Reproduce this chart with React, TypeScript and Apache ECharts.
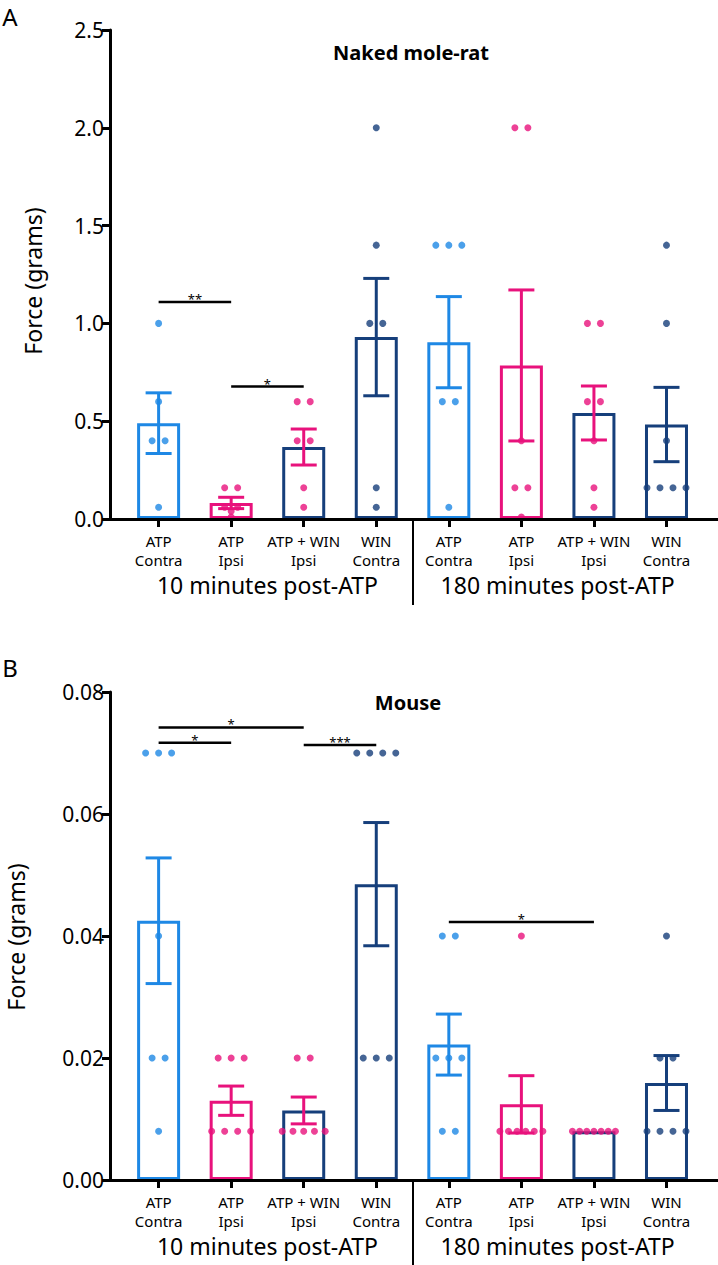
import React, { useEffect, useRef } from "react";
import * as echarts from "echarts";

// ---------- data ----------
const categories = [
  "ATP\nContra", "ATP\nIpsi", "ATP + WIN\nIpsi", "WIN\nContra",
  "ATP\nContra", "ATP\nIpsi", "ATP + WIN\nIpsi", "WIN\nContra",
];
const timeGroups = ["10 minutes post-ATP", "180 minutes post-ATP"];

// Panel A: naked mole-rat (grams)
const nmrMean = [0.49, 0.082, 0.368, 0.93, 0.904, 0.785, 0.542, 0.483];
const nmrSem = [0.155, 0.029, 0.092, 0.3, 0.233, 0.386, 0.138, 0.19];
const nmrPoints = [
  [1.0, 0.6, 0.4, 0.4, 0.06],
  [0.16, 0.16, 0.06, 0.06, 0.04, 0.01],
  [0.6, 0.6, 0.4, 0.4, 0.16, 0.06],
  [2.0, 1.4, 1.0, 1.0, 0.16, 0.06],
  [1.4, 1.4, 1.4, 0.6, 0.6, 0.06],
  [2.0, 2.0, 0.4, 0.16, 0.16, 0.01],
  [1.0, 1.0, 0.6, 0.6, 0.4, 0.16, 0.06],
  [1.4, 1.0, 0.4, 0.16, 0.16, 0.16, 0.16],
];
const nmrSig = [
  [0, 1.11, 1],
  [1, 0.677, 2],
];
const nmrSigLabels = ["**", "*"];

// Panel B: mouse (grams)
const mouseMean = [0.0425, 0.013, 0.0114, 0.0485, 0.0222, 0.0124, 0.008, 0.0159];
const mouseSem = [0.0103, 0.0024, 0.0022, 0.0101, 0.005, 0.0047, 0, 0.0045];
const mousePoints = [
  [0.07, 0.07, 0.07, 0.04, 0.02, 0.02, 0.008],
  [0.02, 0.02, 0.02, 0.008, 0.008, 0.008, 0.008],
  [0.02, 0.02, 0.008, 0.008, 0.008, 0.008, 0.008],
  [0.07, 0.07, 0.07, 0.07, 0.02, 0.02, 0.02],
  [0.04, 0.04, 0.02, 0.02, 0.02, 0.008, 0.008],
  [0.04, 0.008, 0.008, 0.008, 0.008, 0.008, 0.008],
  [0.008, 0.008, 0.008, 0.008, 0.008, 0.008, 0.008],
  [0.04, 0.02, 0.02, 0.008, 0.008, 0.008, 0.008],
];
const mouseSig = [
  [0, 0.0717, 1],
  [0, 0.0742, 2],
  [2, 0.0713, 3],
  [4, 0.0423, 6],
];
const mouseSigLabels = ["*", "*", "***", "*"];

// ---------- styles ----------
const LIGHT = "#1E88E5";
const PINK = "#E8127C";
const NAVY = "#163F7B";
const barColor = [LIGHT, PINK, NAVY, NAVY, LIGHT, PINK, NAVY, NAVY];
const markColor = [LIGHT, PINK, PINK, NAVY, LIGHT, PINK, PINK, NAVY];
const FONT = "Noto Sans";

const X_MIN = -0.67;
const X_MAX = 7.71;
const GRID_W = 608;
const PX_PER_UNIT = GRID_W / (X_MAX - X_MIN);
const catIdx = categories.map((_, i) => i);

function swarm(points: number[][]) {
  const out: any[] = [];
  points.forEach((vals, gi) => {
    const counts = new Map<number, number>();
    vals.forEach((v) => counts.set(v, (counts.get(v) || 0) + 1));
    const seen = new Map<number, number>();
    vals.forEach((v) => {
      const k = counts.get(v)!;
      const i = seen.get(v) || 0;
      seen.set(v, i + 1);
      const step = k > 1 ? Math.min(13, 43 / (k - 1)) : 0;
      const dx = ((i - (k - 1) / 2) * step) / PX_PER_UNIT;
      out.push({ value: [gi + dx, v], itemStyle: { color: markColor[gi] } });
    });
  });
  return out;
}

function xAxes(gridIndex: number) {
  return [
    {
      type: "value",
      gridIndex,
      min: X_MIN,
      max: X_MAX,
      position: "bottom",
      z: 10,
      axisLine: { show: true, onZero: false, lineStyle: { color: "#000", width: 3 } },
      axisTick: { show: true, customValues: catIdx, length: 8, lineStyle: { color: "#000", width: 3 } },
      axisLabel: {
        show: true,
        customValues: catIdx,
        formatter: (v: number) => categories[Math.round(v)],
        margin: 12,
        fontSize: 15,
        lineHeight: 19,
        color: "#000",
        fontFamily: FONT,
      },
      splitLine: { show: false },
    },
    {
      type: "value",
      gridIndex,
      min: X_MIN,
      max: X_MAX,
      position: "bottom",
      axisLine: { show: false, onZero: false },
      axisTick: { show: true, customValues: [3.5], length: 86, lineStyle: { color: "#000", width: 2 } },
      axisLabel: {
        show: true,
        customValues: [1.5, 5.5],
        formatter: (v: number) => (v < 3.5 ? timeGroups[0] : timeGroups[1]),
        margin: 54,
        fontSize: 23,
        color: "#000",
        fontFamily: FONT,
      },
      splitLine: { show: false },
    },
  ];
}

function yAxis(gridIndex: number, max: number, interval: number, digits: number) {
  return {
    type: "value",
    gridIndex,
    min: 0,
    max,
    interval,
    axisLine: { show: true, onZero: false, lineStyle: { color: "#000", width: 3 } },
    axisTick: { show: true, length: 8, lineStyle: { color: "#000", width: 3 } },
    axisLabel: {
      formatter: (v: number) => v.toFixed(digits),
      fontSize: 21,
      color: "#000",
      margin: 6,
      fontFamily: FONT,
    },
    splitLine: { show: false },
  };
}

function panelSeries(
  xIdx: number,
  yIdx: number,
  mean: number[],
  sem: number[],
  points: number[][],
  sig: number[][],
  sigLabels: string[]
) {
  return [
    {
      type: "bar",
      xAxisIndex: xIdx,
      yAxisIndex: yIdx,
      barWidth: 43,
      z: 2,
      data: mean.map((m, i) => ({
        value: [i, m],
        itemStyle: { color: "#ffffff", borderColor: barColor[i], borderWidth: 3 },
      })),
    },
    {
      type: "scatter",
      xAxisIndex: xIdx,
      yAxisIndex: yIdx,
      symbolSize: 7,
      z: 3,
      data: swarm(points),
    },
    {
      type: "custom",
      xAxisIndex: xIdx,
      yAxisIndex: yIdx,
      z: 4,
      data: mean.map((m, i) => [i, m, sem[i]]),
      renderItem: (params: any, api: any) => {
        const x = api.value(0);
        const m = api.value(1);
        const s = api.value(2);
        if (!s) return null;
        const t = api.coord([x, m + s]);
        const b = api.coord([x, m - s]);
        const st = { stroke: markColor[params.dataIndex], lineWidth: 3 };
        return {
          type: "group",
          children: [
            { type: "line", shape: { x1: t[0], y1: t[1], x2: b[0], y2: b[1] }, style: st },
            { type: "line", shape: { x1: t[0] - 13, y1: t[1], x2: t[0] + 13, y2: t[1] }, style: st },
            { type: "line", shape: { x1: b[0] - 13, y1: b[1], x2: b[0] + 13, y2: b[1] }, style: st },
          ],
        };
      },
    },
    {
      type: "custom",
      xAxisIndex: xIdx,
      yAxisIndex: yIdx,
      z: 5,
      data: sig,
      renderItem: (params: any, api: any) => {
        const a = api.coord([api.value(0), api.value(1)]);
        const b = api.coord([api.value(2), api.value(1)]);
        return {
          type: "group",
          children: [
            {
              type: "line",
              shape: { x1: a[0], y1: a[1], x2: b[0], y2: b[1] },
              style: { stroke: "#000", lineWidth: 2.5 },
            },
            {
              type: "text",
              x: (a[0] + b[0]) / 2,
              y: a[1] - 3,
              style: {
                text: sigLabels[params.dataIndex],
                fontSize: 13,
                fill: "#000",
                align: "center",
                verticalAlign: "middle",
                fontFamily: FONT,
              },
            },
          ],
        };
      },
    },
  ];
}

export default function App() {
  const ref = useRef<HTMLDivElement>(null);
  useEffect(() => {
    if (!ref.current) return;
    const chart = echarts.init(ref.current, undefined, { renderer: "svg" });
    const option: any = {
      animation: false,
      backgroundColor: "#ffffff",
      grid: [
        { left: 110, right: 0, top: 30, bottom: 746 },
        { left: 110, right: 0, top: 692, bottom: 85 },
      ],
      xAxis: [...xAxes(0), ...xAxes(1)],
      yAxis: [yAxis(0, 2.5, 0.5, 1), yAxis(1, 0.08, 0.02, 2)],
      series: [
        ...panelSeries(0, 0, nmrMean, nmrSem, nmrPoints, nmrSig, nmrSigLabels),
        ...panelSeries(2, 1, mouseMean, mouseSem, mousePoints, mouseSig, mouseSigLabels),
      ],
      graphic: [
        { type: "text", x: 10, y: 16, style: { text: "A", fontSize: 24, fill: "#000", align: "center", verticalAlign: "middle", fontFamily: FONT } },
        { type: "text", x: 10, y: 667, style: { text: "B", fontSize: 24, fill: "#000", align: "center", verticalAlign: "middle", fontFamily: FONT } },
        { type: "text", x: 411, y: 52, style: { text: "Naked mole-rat", fontSize: 20, fontWeight: "bold", fill: "#000", align: "center", verticalAlign: "middle", fontFamily: FONT } },
        { type: "text", x: 408, y: 702, style: { text: "Mouse", fontSize: 20, fontWeight: "bold", fill: "#000", align: "center", verticalAlign: "middle", fontFamily: FONT } },
        { type: "text", x: 33, y: 281, rotation: Math.PI / 2, style: { text: "Force (grams)", fontSize: 23, fill: "#000", align: "center", verticalAlign: "middle", fontFamily: FONT } },
        { type: "text", x: 16, y: 937, rotation: Math.PI / 2, style: { text: "Force (grams)", fontSize: 23, fill: "#000", align: "center", verticalAlign: "middle", fontFamily: FONT } },
      ],
    };
    chart.setOption(option);
    return () => chart.dispose();
  }, []);
  return (
    <div
      ref={ref}
      style={{ position: "absolute", left: 0, top: 0, width: 718, height: 1265, background: "#fff" }}
    />
  );
}
